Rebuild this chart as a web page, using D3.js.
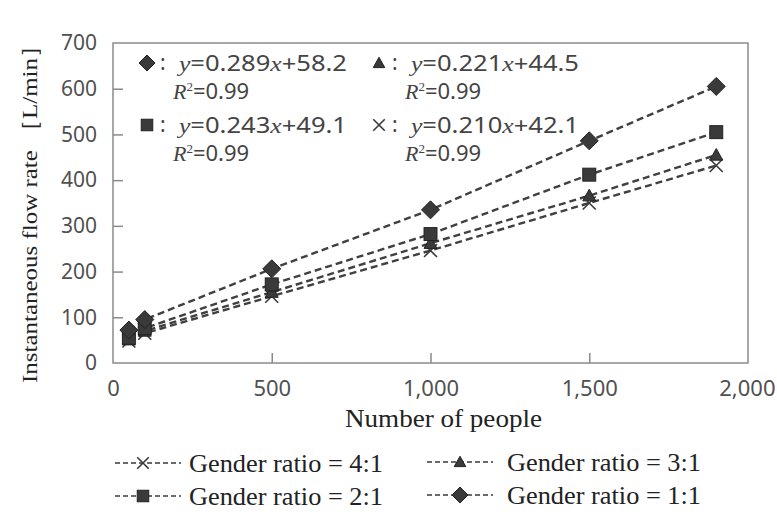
<!DOCTYPE html>
<html>
<head>
<meta charset="utf-8">
<script src="https://cdn.jsdelivr.net/npm/d3@7"></script>
<style>
  body { margin: 0; background: #fff; }
  svg { display: block; }
</style>
</head>
<body>
<div id="chart"></div>
<script>
// values
const people = [50, 100, 500, 1000, 1500, 1900];
const ratio41 = [48, 65, 146, 246, 350, 432];
const ratio31 = [51, 70, 155, 262, 366, 455];
const ratio21 = [55, 76, 172, 282, 412, 505];
const ratio11 = [72, 95, 206, 335, 486, 605];

const xTicks = [0, 500, 1000, 1500, 2000];
const yTicks = [0, 100, 200, 300, 400, 500, 600, 700];

const seriesNames = ["Gender ratio = 4:1", "Gender ratio = 3:1", "Gender ratio = 2:1", "Gender ratio = 1:1"];
const seriesMarks = ["cross", "triangle", "square", "diamond"];
const seriesValues = [ratio41, ratio31, ratio21, ratio11];

const fitEq = [
  { mark: "diamond", slope: "0.289", icept: "58.2", r2: "0.99" },
  { mark: "triangle", slope: "0.221", icept: "44.5", r2: "0.99" },
  { mark: "square", slope: "0.243", icept: "49.1", r2: "0.99" },
  { mark: "cross", slope: "0.210", icept: "42.1", r2: "0.99" }
];

const W = 777, H = 519;
const margin = { top: 43, right: 29, bottom: 156, left: 113 };
const width = W - margin.left - margin.right;
const height = H - margin.top - margin.bottom;

const ink = "#3a3a3a";
const serif = "'Liberation Serif', 'DejaVu Serif', serif";
const sans = "'Noto Sans', 'Open Sans', sans-serif";

const svg = d3.select("#chart").append("svg")
  .attr("width", W)
  .attr("height", H);

const g = svg.append("g")
  .attr("transform", `translate(${margin.left},${margin.top})`);

const x = d3.scaleLinear().domain([0, 2000]).range([0, width]);
const y = d3.scaleLinear().domain([0, 700]).range([height, 0]);

// frame
g.append("rect")
  .attr("width", width)
  .attr("height", height)
  .attr("fill", "none")
  .attr("stroke", "#8a8a8a")
  .attr("stroke-width", 1.5);

// axes with inward ticks
const yAxis = g.append("g")
  .call(d3.axisLeft(y).tickValues(yTicks).tickSizeInner(-10).tickSizeOuter(0).tickPadding(16));
const xAxis = g.append("g")
  .attr("transform", `translate(0,${height})`)
  .call(d3.axisBottom(x).tickValues(xTicks).tickSizeInner(-10).tickSizeOuter(0)
    .tickFormat(d3.format(",")));

[xAxis, yAxis].forEach(ax => {
  ax.select(".domain").remove();
  ax.selectAll(".tick line").attr("stroke", "#8a8a8a").attr("stroke-width", 1.5);
  ax.selectAll(".tick text")
    .attr("fill", "#505050")
    .style("font-family", sans);
});
yAxis.selectAll(".tick text").style("font-size", "21px");
xAxis.selectAll(".tick text")
  .attr("y", 33).attr("dy", 0)
  .style("font-size", "22px");
// last label sits against the right edge
xAxis.selectAll(".tick").filter(d => d === 2000).select("text")
  .attr("text-anchor", "end").attr("x", 27);
yAxis.selectAll(".tick").filter(d => d === 0 || d === 700).select("line").remove();
xAxis.selectAll(".tick").filter(d => d === 0 || d === 2000).select("line").remove();

// axis titles
g.append("text")
  .attr("x", 345 - margin.left)
  .attr("y", 427 - margin.top)
  .attr("textLength", 197)
  .attr("lengthAdjust", "spacingAndGlyphs")
  .attr("fill", "#222")
  .style("font-family", serif)
  .style("font-size", "25px")
  .text("Number of people");

svg.append("text")
  .attr("transform", `translate(37,383) rotate(-90)`)
  .attr("textLength", 350)
  .attr("lengthAdjust", "spacingAndGlyphs")
  .attr("fill", "#222")
  .style("font-family", serif)
  .style("font-size", "22px")
  .text("Instantaneous flow rate ［L/min］");

// marker drawing
function drawMark(sel, type, cx, cy, s) {
  if (type === "diamond") {
    sel.append("path")
      .attr("d", `M${cx},${cy - s}L${cx + s},${cy}L${cx},${cy + s}L${cx - s},${cy}Z`)
      .attr("fill", ink).attr("stroke", "#222").attr("stroke-width", 1);
  } else if (type === "square") {
    const h = s * 0.72;
    sel.append("rect")
      .attr("x", cx - h).attr("y", cy - h).attr("width", 2 * h).attr("height", 2 * h)
      .attr("fill", ink).attr("stroke", "#222").attr("stroke-width", 1);
  } else if (type === "triangle") {
    const h = s * 0.72;
    sel.append("path")
      .attr("d", `M${cx},${cy - h}L${cx + h},${cy + h * 0.8}L${cx - h},${cy + h * 0.8}Z`)
      .attr("fill", ink).attr("stroke", "#222").attr("stroke-width", 1);
  } else {
    const h = s * 0.72;
    sel.append("path")
      .attr("d", `M${cx - h},${cy - h}L${cx + h},${cy + h}M${cx + h},${cy - h}L${cx - h},${cy + h}`)
      .attr("fill", "none").attr("stroke", ink).attr("stroke-width", 1.6);
  }
}

// series lines and markers
const line = d3.line()
  .x((d, i) => x(people[i]))
  .y(d => y(d));

seriesValues.forEach(vals => {
  g.append("path")
    .datum(vals)
    .attr("fill", "none")
    .attr("stroke", "#404040")
    .attr("stroke-width", 2.4)
    .attr("stroke-dasharray", "7,4")
    .attr("d", line);
});
seriesValues.forEach((vals, si) => {
  const mg = g.append("g");
  vals.forEach((v, i) => drawMark(mg, seriesMarks[si], x(people[i]), y(v), 9));
});

// regression equations
const eqPos = [[34, 28], [266, 28], [34, 90], [266, 90]];
fitEq.forEach((e, i) => {
  const [ex, ey] = eqPos[i];
  const eg = g.append("g").attr("transform", `translate(${ex},${ey})`);
  drawMark(eg, e.mark, 0, -8, 8);
  eg.append("text").attr("x", 13).attr("y", -1).attr("fill", "#444")
    .style("font-family", sans).style("font-size", "21px").text(":");
  const t = eg.append("text").attr("x", 32).attr("fill", "#444").style("font-size", "22px")
    .attr("textLength", 168).attr("lengthAdjust", "spacingAndGlyphs");
  t.append("tspan").style("font-family", serif).style("font-style", "italic").text("y");
  t.append("tspan").style("font-family", sans).text("=" + e.slope);
  t.append("tspan").style("font-family", serif).style("font-style", "italic").text("x");
  t.append("tspan").style("font-family", sans).text("+" + e.icept);
  const r = eg.append("text").attr("x", 26).attr("y", 28).attr("fill", "#444").style("font-size", "22px");
  r.append("tspan").style("font-family", serif).style("font-style", "italic").text("R");
  r.append("tspan").style("font-family", serif).attr("dy", -8).style("font-size", "13px").text("2");
  r.append("tspan").style("font-family", sans).attr("dy", 8).text("=" + e.r2);
});

// bottom legend
const legPos = [[115, 472], [427, 471], [115, 505], [427, 504]];
seriesNames.forEach((name, i) => {
  const [lx, ly] = legPos[i];
  const lg = svg.append("g").attr("transform", `translate(${lx},${ly})`);
  lg.append("line")
    .attr("x1", 0).attr("x2", 66).attr("y1", -9).attr("y2", -9)
    .attr("stroke", ink).attr("stroke-width", 1.6).attr("stroke-dasharray", "5,3");
  drawMark(lg, seriesMarks[i], i % 2 ? 33 : 28, -9, 8);
  lg.append("text")
    .attr("x", i % 2 ? 80 : 74)
    .attr("textLength", 194)
    .attr("lengthAdjust", "spacingAndGlyphs")
    .attr("fill", "#222")
    .style("font-family", serif)
    .style("font-size", "25px")
    .text(name);
});
</script>
</body>
</html>
